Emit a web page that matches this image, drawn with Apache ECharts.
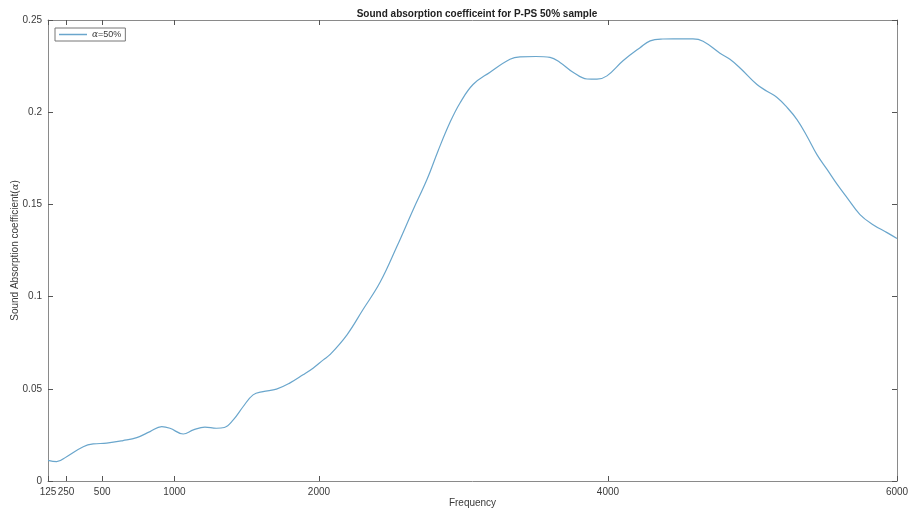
<!DOCTYPE html>
<html>
<head>
<meta charset="utf-8">
<script src="https://cdn.jsdelivr.net/npm/echarts@6/dist/echarts.min.js"></script>
<style>
html, body { margin: 0; padding: 0; background: #fff; }
#chart { width: 910px; height: 511px; }
</style>
</head>
<body>
<div id="chart"></div>
<script>
// frequency (Hz)
var freq = [125, 185, 254, 369, 438, 531, 644, 739, 831, 912, 969, 1061, 1131, 1211, 1290, 1345,
	1407, 1476, 1544, 1613, 1706, 1800, 1890, 1959, 2030, 2076, 2194, 2305, 2422, 2540, 2651,
	2748, 2824, 2907, 2976, 3066, 3184, 3322, 3391, 3500, 3599, 3668, 3758, 3855, 3924, 3993,
	4104, 4222, 4292, 4380, 4450, 4588, 4658, 4775, 4844, 4914, 5031, 5100, 5170, 5239, 5308,
	5377, 5446, 5516, 5585, 5654, 5744, 5834, 5931, 6000];
// sound absorption coefficient
var alpha50 = [0.0112, 0.0105, 0.0132, 0.0186, 0.0201, 0.0205, 0.0219, 0.0235, 0.0268, 0.0295,
	0.0286, 0.0255, 0.0277, 0.0292, 0.0286, 0.0290, 0.0331, 0.0404, 0.0467, 0.0485, 0.0498,
	0.0532, 0.0576, 0.0612, 0.0657, 0.0685, 0.0793, 0.0930, 0.1076, 0.1273, 0.1470, 0.1636,
	0.1790, 0.1945, 0.2050, 0.2150, 0.2217, 0.2287, 0.2300, 0.2302, 0.2297, 0.2270, 0.2217,
	0.2180, 0.2179, 0.2197, 0.2279, 0.2350, 0.2387, 0.2397, 0.2398, 0.2398, 0.2385, 0.2320,
	0.2287, 0.2240, 0.2150, 0.2114, 0.2080, 0.2026, 0.1960, 0.1870, 0.1770, 0.1690, 0.1610,
	0.1537, 0.1445, 0.1390, 0.1347, 0.1315];
var xTicks = [125, 250, 500, 1000, 2000, 4000, 6000];
var yTicks = [0, 0.05, 0.1, 0.15, 0.2, 0.25];
var seriesName = 'α=50%';

var font = 'Liberation Sans, Arial, sans-serif';
var axisColor = '#8a8a8a';
var labelColor = '#3a3a3a';

var chart = echarts.init(document.getElementById('chart'), null, { renderer: 'canvas' });

var pts = [];
for (var i = 0; i < freq.length; i++) {
	pts.push([freq[i], alpha50[i]]);
}

function xAxisDef(showLabel, pos) {
	return {
		type : 'value',
		position : pos,
		min : 125,
		max : 6000,
		axisLine : { show : true, onZero : false, lineStyle : { color : axisColor, width : 1 } },
		axisTick : { show : true, inside : true, length : 5, customValues : xTicks,
			lineStyle : { color : '#555' } },
		axisLabel : { show : showLabel, customValues : xTicks, color : labelColor,
			fontFamily : font, fontSize : 10, margin : 6,
			formatter : function (v) { return String(v); } },
		splitLine : { show : false }
	};
}

function yAxisDef(showLabel, pos) {
	return {
		type : 'value',
		position : pos,
		min : 0,
		max : 0.25,
		interval : 0.05,
		axisLine : { show : true, onZero : false, lineStyle : { color : axisColor, width : 1 } },
		axisTick : { show : true, inside : true, length : 5, lineStyle : { color : '#555' } },
		axisLabel : { show : showLabel, color : labelColor, fontFamily : font, fontSize : 10,
			margin : 6 },
		splitLine : { show : false }
	};
}

var italicA = { color : labelColor, fontFamily : 'DejaVu Serif, serif', fontStyle : 'italic' };

var xBottom = xAxisDef(true, 'bottom');
xBottom.name = 'Frequency';
xBottom.nameLocation = 'middle';
xBottom.nameGap = 17;
xBottom.nameMoveOverlap = false;
xBottom.nameTextStyle = { color : labelColor, fontFamily : font, fontSize : 10 };

var yLeft = yAxisDef(true, 'left');
yLeft.name = '{n|Sound Absorption coefficient(}{a|α}{n|)}';
yLeft.nameLocation = 'middle';
yLeft.nameGap = 28;
yLeft.nameMoveOverlap = false;
yLeft.nameTextStyle = {
	color : labelColor, fontFamily : font, fontSize : 10,
	rich : {
		n : { color : labelColor, fontFamily : font, fontSize : 10 },
		a : Object.assign({ fontSize : 10 }, italicA)
	}
};

chart.setOption({
	animation : false,
	backgroundColor : '#fff',
	title : {
		text : 'Sound absorption coefficeint for P-PS 50% sample',
		left : 472,
		textAlign : 'center',
		top : 4,
		textStyle : { color : '#222', fontFamily : font, fontSize : 10, fontWeight : 'bold' }
	},
	grid : {
		left : 48,
		right : 13,
		top : 20,
		bottom : 30,
		containLabel : false,
		outerBoundsMode : 'none'
	},
	legend : {
		show : true,
		left : 55,
		top : 28,
		padding : [2, 4, 2, 4],
		itemWidth : 28,
		itemHeight : 1.5,
		itemGap : 4,
		borderColor : '#777',
		borderWidth : 1,
		backgroundColor : '#fff',
		data : [ { name : seriesName, icon : 'rect' } ],
		formatter : function () { return '{a|α}{n|=50%}'; },
		textStyle : {
			color : labelColor, fontFamily : font, fontSize : 9,
			rich : {
				n : { color : labelColor, fontFamily : font, fontSize : 9 },
				a : Object.assign({ fontSize : 9 }, italicA)
			}
		}
	},
	xAxis : [ xBottom, xAxisDef(false, 'top') ],
	yAxis : [ yLeft, yAxisDef(false, 'right') ],
	series : [ {
		name : seriesName,
		type : 'line',
		xAxisIndex : 0,
		yAxisIndex : 0,
		symbol : 'none',
		smooth : 0.4,
		color : '#6aa6cc',
		lineStyle : { color : '#6aa6cc', width : 1.2 },
		data : pts
	} ]
});
</script>
</body>
</html>
